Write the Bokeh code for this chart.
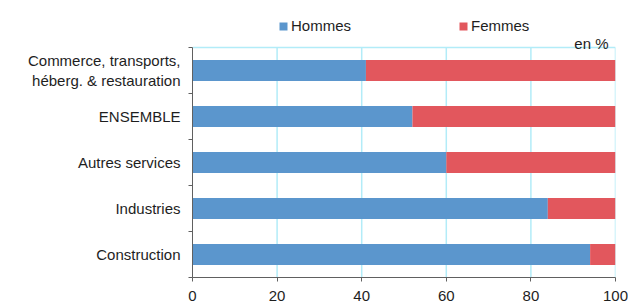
from bokeh.plotting import figure
from bokeh.models import ColumnDataSource, Range1d, FixedTicker, Label, Legend, LegendItem
from bokeh.embed import file_html
from bokeh.resources import INLINE

categories = ["Commerce, transports,\nhéberg. & restauration", "ENSEMBLE",
              "Autres services", "Industries", "Construction"]
hommes = [41, 52, 60, 84, 94]
femmes = [59, 48, 40, 16, 6]
x_ticks = [0, 20, 40, 60, 80, 100]
series_names = ["Hommes", "Femmes"]
unit_note = "en %"

BLUE = "#5b96cd"
RED = "#e2575d"
GRID = "#b2ecf8"
AXIS = "#606060"
FONT = "Liberation Sans"
TEXT = "#1e1e1e"

n = len(categories)
ys = [n - i - 0.5 for i in range(n)]
source = ColumnDataSource(dict(y=ys, hommes=hommes, femmes=femmes))

# frame runs from the canvas top down to the x axis; the category band takes the lower 230 px
FRAME_H = 277
BAND_H = 230
p = figure(width=628, height=304, x_range=Range1d(0, 100),
           y_range=Range1d(0, n * FRAME_H / BAND_H),
           output_backend="svg", toolbar_location=None,
           min_border_left=192, min_border_right=13, min_border_top=0, min_border_bottom=27)
p.outline_line_color = None
p.background_fill_color = "white"
p.xgrid.visible = False
p.ygrid.visible = False

# vertical grid lines (behind bars) and top border, limited to the category band
p.segment(x0=x_ticks[1:], y0=[0] * (len(x_ticks) - 1), x1=x_ticks[1:], y1=[n] * (len(x_ticks) - 1),
          line_color=GRID, line_width=1.5)
p.segment(x0=[x_ticks[0]], y0=[n], x1=[x_ticks[-1]], y1=[n], line_color=GRID, line_width=1.5)

rs = p.hbar_stack(["hommes", "femmes"], y="y", height=0.46, color=[BLUE, RED],
                  line_color=None, source=source)

# axes
p.xaxis.ticker = FixedTicker(ticks=x_ticks, minor_ticks=[])
p.xaxis.major_tick_out = 4
p.xaxis.major_tick_in = 0
p.xaxis.major_label_standoff = 9
p.yaxis.ticker = FixedTicker(ticks=ys, minor_ticks=list(range(n + 1)))
p.yaxis.bounds = (0, n)
p.yaxis.major_label_overrides = {y: c for y, c in zip(ys, categories)}
p.yaxis.major_tick_out = 0
p.yaxis.major_tick_in = 0
p.yaxis.minor_tick_out = 4
p.yaxis.minor_tick_in = 0
p.yaxis.major_label_standoff = 8
for ax in (p.xaxis, p.yaxis):
    ax.axis_line_color = AXIS
    ax.major_tick_line_color = AXIS
    ax.minor_tick_line_color = AXIS
    ax.major_label_text_font = FONT
    ax.major_label_text_font_size = "15px"
    ax.major_label_text_color = TEXT
p.xaxis.minor_tick_line_color = None

# legend
lg = Legend(items=[LegendItem(label=name, renderers=[r]) for name, r in zip(series_names, rs)])
lg.orientation = "horizontal"
lg.location = (86, 243)
lg.padding = 0
lg.margin = 0
lg.spacing = 107
lg.glyph_width = 10
lg.glyph_height = 10
lg.label_standoff = 3
lg.border_line_color = None
lg.background_fill_alpha = 0
lg.label_text_font = FONT
lg.label_text_font_size = "15px"
lg.label_text_color = TEXT
p.add_layout(lg)

p.add_layout(Label(x=416, y=234, x_units="screen", y_units="screen", text=unit_note,
                   text_align="right", text_baseline="alphabetic",
                   text_font=FONT, text_font_size="15px", text_color=TEXT))

open("out.html", "w").write(file_html(p, INLINE))
